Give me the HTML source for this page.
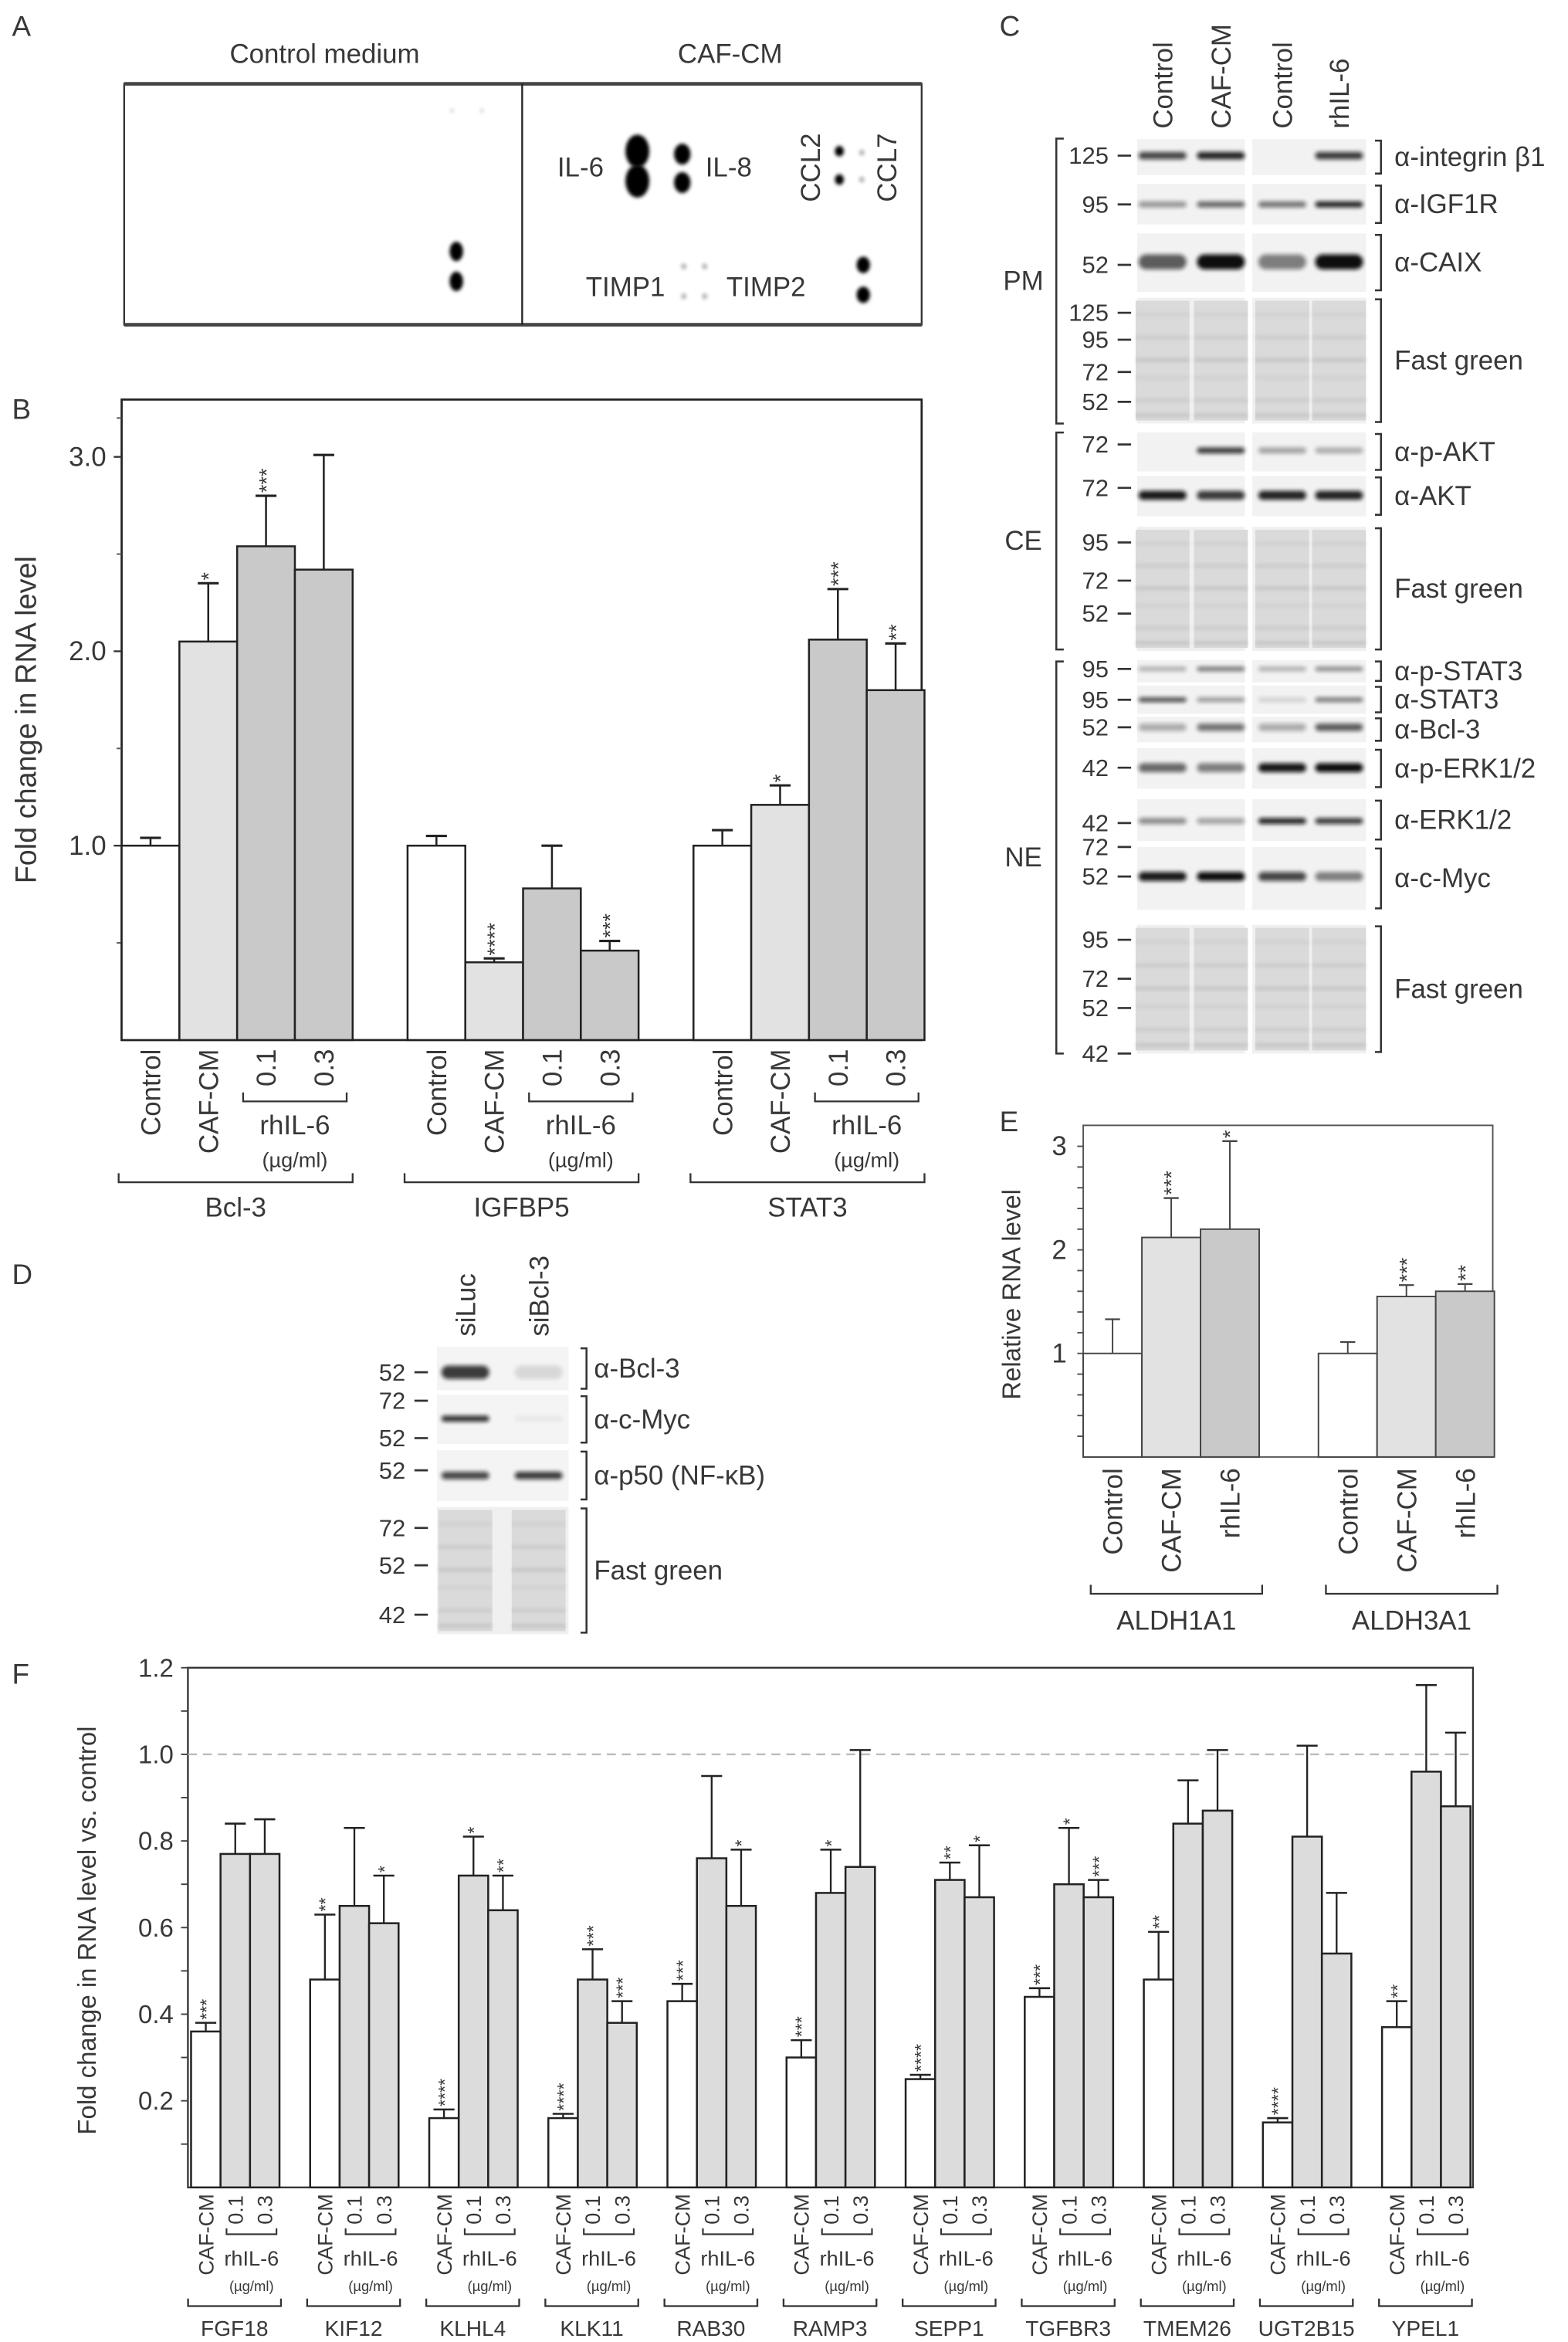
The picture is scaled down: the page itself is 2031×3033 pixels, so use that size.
<!DOCTYPE html>
<html><head><meta charset="utf-8"><title>Figure</title>
<style>
html,body{margin:0;padding:0;background:#fff;}
svg{display:block;}
text{font-family:"Liberation Sans",Arial,sans-serif;fill:#383838;}
</style></head>
<body>
<svg id="fig" xmlns="http://www.w3.org/2000/svg" width="2031" height="3033" viewBox="0 0 1048 1565" preserveAspectRatio="none">
<defs>
<filter id="blur1" x="-20%" y="-100%" width="140%" height="300%"><feGaussianBlur stdDeviation="1.4"/></filter>
<filter id="blur2" x="-20%" y="-100%" width="140%" height="300%"><feGaussianBlur stdDeviation="1.2"/></filter>
<filter id="blurDot" x="-100%" y="-100%" width="300%" height="300%"><feGaussianBlur stdDeviation="1.3"/></filter>
</defs>
<rect x="0" y="0" width="1048" height="1565" fill="#fff"/>
</svg>
<script>
// ---------- Chart data (top level) ----------
// Panel B
const bGroups = ['Bcl-3', 'IGFBP5', 'STAT3'];
const bConds = ['Control', 'CAF-CM', '0.1', '0.3'];
const bBcl3 = [1.0, 2.05, 2.54, 2.42];
const bIgfbp5 = [1.0, 0.40, 0.78, 0.46];
const bStat3 = [1.0, 1.21, 2.06, 1.80];
const bErrBcl3 = [0.04, 0.30, 0.26, 0.59];
const bErrIgfbp5 = [0.05, 0.02, 0.22, 0.05];
const bErrStat3 = [0.08, 0.10, 0.26, 0.24];
const bStars = [['', '*', '***', ''], ['', '****', '', '***'], ['', '*', '***', '**']];
const bTicks = [1.0, 2.0, 3.0];
const bTickLabels = ['1.0', '2.0', '3.0'];
// Panel E
const eGroups = ['ALDH1A1', 'ALDH3A1'];
const eConds = ['Control', 'CAF-CM', 'rhIL-6'];
const eAldh1a1 = [1.0, 2.12, 2.20];
const eAldh3a1 = [1.0, 1.55, 1.60];
const eErrAldh1a1 = [0.33, 0.38, 0.85];
const eErrAldh3a1 = [0.11, 0.11, 0.07];
const eStars = [['', '***', '*'], ['', '***', '**']];
const eTicks = [1, 2, 3];
const eTickLabels = ['1', '2', '3'];
// Panel F
const fGenes = ['FGF18', 'KIF12', 'KLHL4', 'KLK11', 'RAB30', 'RAMP3', 'SEPP1', 'TGFBR3', 'TMEM26', 'UGT2B15', 'YPEL1'];
const fCafCm = [0.36, 0.48, 0.16, 0.16, 0.43, 0.30, 0.25, 0.44, 0.48, 0.15, 0.37];
const fIl6Low = [0.77, 0.65, 0.72, 0.48, 0.76, 0.68, 0.71, 0.70, 0.84, 0.81, 0.96];
const fIl6High = [0.77, 0.61, 0.64, 0.38, 0.65, 0.74, 0.67, 0.67, 0.87, 0.54, 0.88];
const fErrCaf = [0.02, 0.15, 0.02, 0.01, 0.04, 0.04, 0.01, 0.02, 0.11, 0.01, 0.06];
const fErrLow = [0.07, 0.18, 0.09, 0.07, 0.19, 0.10, 0.04, 0.13, 0.10, 0.21, 0.20];
const fErrHigh = [0.08, 0.11, 0.08, 0.05, 0.13, 0.27, 0.12, 0.04, 0.14, 0.14, 0.17];
const fStarsCaf = ['***', '**', '****', '****', '***', '***', '****', '***', '**', '****', '**'];
const fStarsLow = ['', '', '*', '***', '', '*', '**', '*', '', '', ''];
const fStarsHigh = ['', '*', '**', '***', '*', '', '*', '***', '', '', ''];
const fTicks = [0.2, 0.4, 0.6, 0.8, 1.0, 1.2];
const fTickLabels = ['0.2', '0.4', '0.6', '0.8', '1.0', '1.2'];

// ---------- helpers ----------
const NS = 'http://www.w3.org/2000/svg';
const svg = document.getElementById('fig');
function mk(tag, attrs, parent) {
  const e = document.createElementNS(NS, tag);
  for (const k in attrs) e.setAttribute(k, attrs[k]);
  (parent || svg).appendChild(e);
  return e;
}
function txt(s, x, y, size, anchor, parent) {
  const t = mk('text', {x: x, y: y, 'font-size': size, 'text-anchor': anchor || 'start'}, parent);
  t.textContent = s;
  return t;
}
function vtxt(s, x, y, size, anchor, parent) {
  const t = mk('text', {transform: 'translate(' + x + ',' + y + ') rotate(-90)', x: 0, y: 0, 'font-size': size, 'text-anchor': anchor || 'end'}, parent);
  t.textContent = s;
  return t;
}
function line(x1, y1, x2, y2, w, c, parent) {
  return mk('line', {x1: x1, y1: y1, x2: x2, y2: y2, stroke: c || '#333', 'stroke-width': w || 1}, parent);
}
function path(d, w, c, parent) {
  return mk('path', {d: d, fill: 'none', stroke: c || '#333', 'stroke-width': w || 1}, parent);
}

// ---------- panel letters ----------
[['A', 8, 24], ['B', 8, 280], ['C', 668, 24], ['D', 8, 858], ['E', 668, 756], ['F', 8, 1125]].forEach(p => {
  const t = txt(p[0], p[1], p[2], 19, 'start');
  
  
});

// ---------- Panel A: cytokine array ----------
const gA = mk('g', {});


let t = txt('Control medium', 217, 42, 18, 'middle', gA);


t = txt('CAF-CM', 488, 42, 18, 'middle', gA);


let r = mk('rect', {x: 83, y: 56, width: 533, height: 161, fill: '#fff', stroke: '#333', 'stroke-width': 1.2}, gA);


line(83, 56, 616, 56, 2.4, '#444', gA);
line(83, 217, 616, 217, 2.4, '#444', gA);
line(349, 56, 349, 217, 1.2, '#222', gA);
const dots = [[305, 168, 4.5, 6.5, 1], [305, 188, 4.5, 6.5, 1], [426, 101, 8, 11, 1], [426, 121, 8, 11, 1], [456, 103, 5.5, 7, 1], [456, 122, 5.5, 7, 1],
  [561, 101, 3, 3.5, 1], [561, 120, 3, 3.5, 1], [576, 102, 1.8, 2, 0.3], [576, 120, 1.8, 2, 0.3],
  [457, 178, 1.8, 2, 0.3], [471, 178, 1.8, 2, 0.3], [457, 198, 1.8, 2, 0.3], [471, 198, 1.8, 2, 0.3],
  [577, 177, 4.5, 5.5, 1], [577, 197, 4.5, 5.5, 1], [302, 74, 1.2, 1, 0.25], [322, 74, 1.2, 1, 0.25]];
dots.forEach(d => {
  const e = mk('ellipse', {cx: d[0], cy: d[1], rx: d[2], ry: d[3], fill: '#000', opacity: d[4], filter: 'url(#blurDot)'}, gA);
  
  
});
[['IL-6', 388, 118, 'il6-label'], ['IL-8', 487, 118, 'il8-label'], ['TIMP1', 418, 198, 'timp1-label'], ['TIMP2', 512, 198, 'timp2-label']].forEach(a => {
  const e = txt(a[0], a[1], a[2], 18, 'middle', gA);
  
  
});
t = vtxt('CCL2', 548, 112, 18, 'middle', gA);


t = vtxt('CCL7', 599, 112, 18, 'middle', gA);



// ---------- Panel B ----------
const gB = mk('g', {});


const yB = v => 695 - v * 129.9;
const xB = (g, i) => 81.3 + g * 191.1 + i * 38.6;
const bW = 38.6;
const bFill = ['#ffffff', '#e2e2e2', '#c9c9c9', '#c9c9c9'];
const bVals = [bBcl3, bIgfbp5, bStat3];
const bErrs = [bErrBcl3, bErrIgfbp5, bErrStat3];
r = mk('rect', {x: 81.3, y: 267, width: 534.7, height: 428, fill: 'none', stroke: '#222', 'stroke-width': 1.4}, gB);


bTicks.forEach((v, i) => {
  line(76, yB(v), 81.3, yB(v), 1.2, '#333', gB);
  const e = txt(bTickLabels[i], 71, yB(v) + 6, 18, 'end', gB);
  
  
});
[0.5, 1.5, 2.5, 3.2].forEach(v => line(78, yB(v), 81.3, yB(v), 1, '#555', gB));
t = vtxt('Fold change in RNA level', 24, 481, 19.5, 'middle', gB);


bGroups.forEach((g, gi) => {
  bConds.forEach((c, i) => {
    const v = bVals[gi][i], er = bErrs[gi][i];
    const x = xB(gi, i), cx = x + bW / 2;
    const bar = mk('rect', {x: x, y: yB(v), width: bW, height: yB(0) - yB(v), fill: bFill[i], stroke: '#222', 'stroke-width': 1.3}, gB);
    
    
    line(cx, yB(v), cx, yB(v + er), 1.3, '#222', gB);
    line(cx - 7, yB(v + er), cx + 7, yB(v + er), 1.6, '#222', gB);
    if (bStars[gi][i]) {
      const s = vtxt(bStars[gi][i], cx + 5, yB(v + er) - 2, 14, 'start', gB);
      s.setAttribute('fill', '#555');
      
      
    }
    const lab = vtxt(c, cx + 6.5, 701, 18, 'end', gB);
    
    
  });
  const bx1 = xB(gi, 2) + 4, bx2 = xB(gi, 4) - 4;
  path('M' + bx1 + ',730 V736 H' + bx2 + ' V730', 1.2, '#333', gB);
  let e = txt('rhIL-6', (bx1 + bx2) / 2, 758, 18, 'middle', gB);
  
  
  e = txt('(µg/ml)', (bx1 + bx2) / 2, 780, 14, 'middle', gB);
  
  
  const g1 = xB(gi, 0) - 2, g2 = xB(gi, 4);
  path('M' + g1 + ',784 V790 H' + g2 + ' V784', 1.2, '#333', gB);
  e = txt(g, (g1 + g2) / 2, 813, 18, 'middle', gB);
  
  
});

// ---------- Blot helper ----------
function blot(name, x, y, w, h, lanes, bandY, bandH, bg, parent) {
  const g = mk('g', {}, parent);
  
  
  mk('rect', {x: x, y: y, width: w, height: h, fill: bg || '#f3f3f3'}, g);
  lanes.forEach(l => {
    if (l[1] <= 0) return;
    mk('rect', {x: l[0] - 16, y: bandY - bandH / 2, width: 32, height: bandH, rx: bandH / 2, fill: '#111', opacity: l[1], filter: 'url(#blur1)'}, g);
  });
  return g;
}
function stainBlot(name, x, y, w, h, lanesX, parent) {
  const g = mk('g', {}, parent);
  
  
  mk('rect', {x: x, y: y, width: w, height: h, fill: '#f0f0f0'}, g);
  lanesX.forEach(lx => {
    mk('rect', {x: lx - 18, y: y + 2, width: 36, height: h - 4, fill: '#dadada'}, g);
    const offs = [0.12, 0.3, 0.48, 0.62, 0.8, 0.92];
    offs.forEach((o, k) => mk('rect', {x: lx - 18, y: y + o * h, width: 36, height: 2.5, fill: '#888', opacity: 0.12 + (k % 3) * 0.07, filter: 'url(#blur2)'}, g));
  });
  return g;
}
function marker(lbl, y, xr, parent) {
  const e = txt(lbl, xr, y + 5.5, 16, 'end', parent);
  
  
  line(xr + 6, y, xr + 15, y, 1.4, '#333', parent);
}
function rbracket(x, y1, y2, parent) {
  path('M' + (x - 4) + ',' + y1 + ' H' + x + ' V' + y2 + ' H' + (x - 4), 1.3, '#333', parent);
}

// ---------- Panel C ----------
const gC = mk('g', {});


const cLaneX = [777, 816, 857, 895];
['Control', 'CAF-CM', 'Control', 'rhIL-6'].forEach((c, i) => {
  const e = vtxt(c, cLaneX[i] + 6.5, 86, 18, 'start', gC);
  
  
});
const cRows = [
  ['integrin', 93, 117, 104, 5, [0.75, 0.9, 0, 0.8], [['125', 104]], 'α-integrin β1'],
  ['igf1r', 123, 150, 136.6, 4, [0.4, 0.6, 0.55, 0.9], [['95', 136.6]], 'α-IGF1R'],
  ['caix', 156, 195, 175, 10, [0.65, 1.0, 0.5, 1.0], [['52', 177]], 'α-CAIX'],
  ['fg-pm', 199, 283, 0, 0, null, [['125', 209], ['95', 227], ['72', 248.6], ['52', 268.5]], 'Fast green'],
  ['p-akt', 289, 315, 301, 4, [0, 0.8, 0.35, 0.3], [['72', 297]], 'α-p-AKT'],
  ['akt', 318, 345, 331, 6, [0.95, 0.8, 0.9, 0.9], [['72', 326]], 'α-AKT'],
  ['fg-ce', 352, 435, 0, 0, null, [['95', 362.5], ['72', 388], ['52', 410]], 'Fast green'],
  ['p-stat3', 441, 456, 447, 3, [0.3, 0.55, 0.3, 0.45], [['95', 447]], 'α-p-STAT3'],
  ['stat3', 458, 477, 467.6, 3, [0.75, 0.4, 0.15, 0.55], [['95', 467.6]], 'α-STAT3'],
  ['bcl3', 479, 496, 486, 5, [0.3, 0.55, 0.3, 0.65], [['52', 486]], 'α-Bcl-3'],
  ['p-erk', 500, 527, 513, 6, [0.6, 0.5, 0.95, 1.0], [['42', 513]], 'α-p-ERK1/2'],
  ['erk', 534, 562, 548.6, 4, [0.45, 0.35, 0.9, 0.8], [['42', 550]], 'α-ERK1/2'],
  ['c-myc', 566, 608, 585.7, 6, [0.95, 1.0, 0.75, 0.5], [['72', 566], ['52', 585.7]], 'α-c-Myc'],
  ['fg-ne', 618, 704, 0, 0, null, [['95', 628], ['72', 654], ['52', 673.6], ['42', 704]], 'Fast green']
];
cRows.forEach(row => {
  const [nm, y1, y2, by, bh, lanes, mks, label] = row;
  if (lanes) {
    blot('blot-' + nm + '-left', 760, y1, 72, y2 - y1, [[cLaneX[0], lanes[0]], [cLaneX[1], lanes[1]]], by, bh, '#f2f2f2', gC);
    blot('blot-' + nm + '-right', 837, y1, 76, y2 - y1, [[cLaneX[2], lanes[2]], [cLaneX[3], lanes[3]]], by, bh, '#f2f2f2', gC);
  } else {
    stainBlot('stain-' + nm + '-left', 760, y1, 72, y2 - y1, [cLaneX[0], cLaneX[1]], gC);
    stainBlot('stain-' + nm + '-right', 837, y1, 76, y2 - y1, [cLaneX[2], cLaneX[3]], gC);
  }
  mks.forEach(m => marker(m[0], m[1], 741, gC));
  rbracket(923, y1 + 1, y2 - 1, gC);
  const e = txt(label, 932, (y1 + y2) / 2 + 6, 18, 'start', gC);
  
  
});
[['PM', 92.6, 283], ['CE', 289, 434], ['NE', 442, 704]].forEach(b => {
  path('M711,' + b[1] + ' H706 V' + b[2] + ' H711', 1.3, '#333', gC);
  const e = txt(b[0], 684, (b[1] + b[2]) / 2 + 6, 18, 'middle', gC);
  
  
});

// ---------- Panel D ----------
const gD = mk('g', {});


const dLaneX = [311, 360];
['siLuc', 'siBcl-3'].forEach((c, i) => {
  const e = vtxt(c, dLaneX[i] + 6.5, 893, 18, 'start', gD);
  
  
});
const dRows = [
  ['bcl3', 900, 929, 917, 9, [0.8, 0.12], [['52', 917]], 'α-Bcl-3'],
  ['c-myc', 932, 965, 948, 4, [0.85, 0.05], [['72', 936], ['52', 961]], 'α-c-Myc'],
  ['p50', 969, 1003, 986, 5, [0.75, 0.8], [['52', 982.5]], 'α-p50 (NF-κB)'],
  ['fg', 1007, 1092, 0, 0, null, [['72', 1021], ['52', 1046], ['42', 1079]], 'Fast green']
];
dRows.forEach(row => {
  const [nm, y1, y2, by, bh, lanes, mks, label] = row;
  if (lanes) blot('blot-d-' + nm, 292, y1, 88, y2 - y1, [[dLaneX[0], lanes[0]], [dLaneX[1], lanes[1]]], by, bh, '#f4f4f4', gD);
  else stainBlot('stain-d-' + nm, 292, y1, 88, y2 - y1, dLaneX, gD);
  mks.forEach(m => marker(m[0], m[1], 271, gD));
  rbracket(392, y1 + 1, y2 - 1, gD);
  const e = txt(label, 397, (y1 + y2) / 2 + 6, 18, 'start', gD);
  
  
});

// ---------- Panel E ----------
const gE = mk('g', {});


const yE = v => 973.6 - v * 69.2;
const xE = (g, i) => 724 + g * 157.2 + i * 39.2;
const eW = 39.2;
const eFill = ['#ffffff', '#e2e2e2', '#c9c9c9'];
const eVals = [eAldh1a1, eAldh3a1];
const eErrs = [eErrAldh1a1, eErrAldh3a1];
r = mk('rect', {x: 724, y: 752, width: 273.7, height: 221.6, fill: 'none', stroke: '#555', 'stroke-width': 1}, gE);


for (let k = 1; k <= 15; k++) line(720, yE(k * 0.2), 724, yE(k * 0.2), 1, '#555', gE);
eTicks.forEach((v, i) => {
  const e = txt(eTickLabels[i], 713, yE(v) + 6, 18, 'end', gE);
  
  
});
t = vtxt('Relative RNA level', 682, 865, 17, 'middle', gE);


eGroups.forEach((g, gi) => {
  eConds.forEach((c, i) => {
    const v = eVals[gi][i], er = eErrs[gi][i];
    const x = xE(gi, i), cx = x + eW / 2;
    const bar = mk('rect', {x: x, y: yE(v), width: eW, height: yE(0) - yE(v), fill: eFill[i], stroke: '#444', 'stroke-width': 1}, gE);
    
    
    line(cx, yE(v), cx, yE(v + er), 1, '#444', gE);
    line(cx - 5, yE(v + er), cx + 5, yE(v + er), 1.2, '#444', gE);
    if (eStars[gi][i]) {
      const s = vtxt(eStars[gi][i], cx + 5, yE(v + er) - 2, 14, 'start', gE);
      s.setAttribute('fill', '#555');
      
      
    }
    const lab = vtxt(c, cx + 6.5, 981, 18, 'end', gE);
    
    
  });
  const g1 = xE(gi, 0) + 5, g2 = xE(gi, 3) + 2;
  path('M' + g1 + ',1059 V1065 H' + g2 + ' V1059', 1.2, '#333', gE);
  const e = txt(g, (g1 + g2) / 2, 1089, 18, 'middle', gE);
  
  
});

// ---------- Panel F ----------
const gF = mk('g', {});


const yF = v => 1461.7 - v * 289.4;
const xF = (g, i) => 127.7 + g * 79.6 + i * 19.7;
const fW = 19.7;
r = mk('rect', {x: 125.6, y: yF(1.2), width: 858.9, height: yF(0) - yF(1.2), fill: 'none', stroke: '#333', 'stroke-width': 1.2}, gF);


let dl = line(125.6, yF(1.0), 984.5, yF(1.0), 1.2, '#bbb', gF);
dl.setAttribute('stroke-dasharray', '6,4');


for (let k = 1; k <= 12; k++) line(121, yF(k * 0.1), 125.6, yF(k * 0.1), 1, '#444', gF);
fTicks.forEach((v, i) => {
  const e = txt(fTickLabels[i], 116, yF(v) + 6, 17, 'end', gF);
  
  
});
t = vtxt('Fold change in RNA level vs. control', 64, 1290, 17, 'middle', gF);


const fSeries = [fCafCm, fIl6Low, fIl6High];
const fErrSeries = [fErrCaf, fErrLow, fErrHigh];
const fStarSeries = [fStarsCaf, fStarsLow, fStarsHigh];
const fFill = ['#ffffff', '#dcdcdc', '#dcdcdc'];
const fCond = ['caf-cm', 'il6-0.1', 'il6-0.3'];
fGenes.forEach((g, gi) => {
  fSeries.forEach((ser, i) => {
    const v = ser[gi], er = fErrSeries[i][gi];
    const x = xF(gi, i), cx = x + fW / 2;
    const bar = mk('rect', {x: x, y: yF(v), width: fW, height: yF(0) - yF(v), fill: fFill[i], stroke: '#222', 'stroke-width': 1.3}, gF);
    
    
    line(cx, yF(v), cx, yF(v + er), 1.2, '#222', gF);
    line(cx - 7, yF(v + er), cx + 7, yF(v + er), 1.3, '#222', gF);
    const st = fStarSeries[i][gi];
    if (st) {
      const s = vtxt(st, cx + 4.5, yF(v + er) - 2, 12, 'start', gF);
      s.setAttribute('fill', '#555');
      
      
    }
  });
  const c0 = xF(gi, 0) + fW / 2;
  let e = vtxt('CAF-CM', c0 + 5, 1466, 14, 'end', gF);
  
  
  e = vtxt('0.1', xF(gi, 1) + fW / 2 + 5, 1467, 14, 'end', gF);
  
  
  e = vtxt('0.3', xF(gi, 2) + fW / 2 + 5, 1467, 14, 'end', gF);
  
  
  const s1 = xF(gi, 1) + 4, s2 = xF(gi, 3) - 2;
  path('M' + s1 + ',1489 V1493 H' + s2 + ' V1489', 1.1, '#333', gF);
  e = txt('rhIL-6', (xF(gi, 1) + xF(gi, 3)) / 2 + 1, 1514, 14, 'middle', gF);
  
  
  e = txt('(µg/ml)', (xF(gi, 1) + xF(gi, 3)) / 2 + 1, 1531, 9.5, 'middle', gF);
  
  
  const g1 = xF(gi, 0) - 2, g2 = xF(gi, 3) + 1;
  path('M' + g1 + ',1536 V1541 H' + g2 + ' V1536', 1.2, '#333', gF);
  e = txt(g, (g1 + g2) / 2, 1561, 14.5, 'middle', gF);
  
  
});
</script>
</body></html>
